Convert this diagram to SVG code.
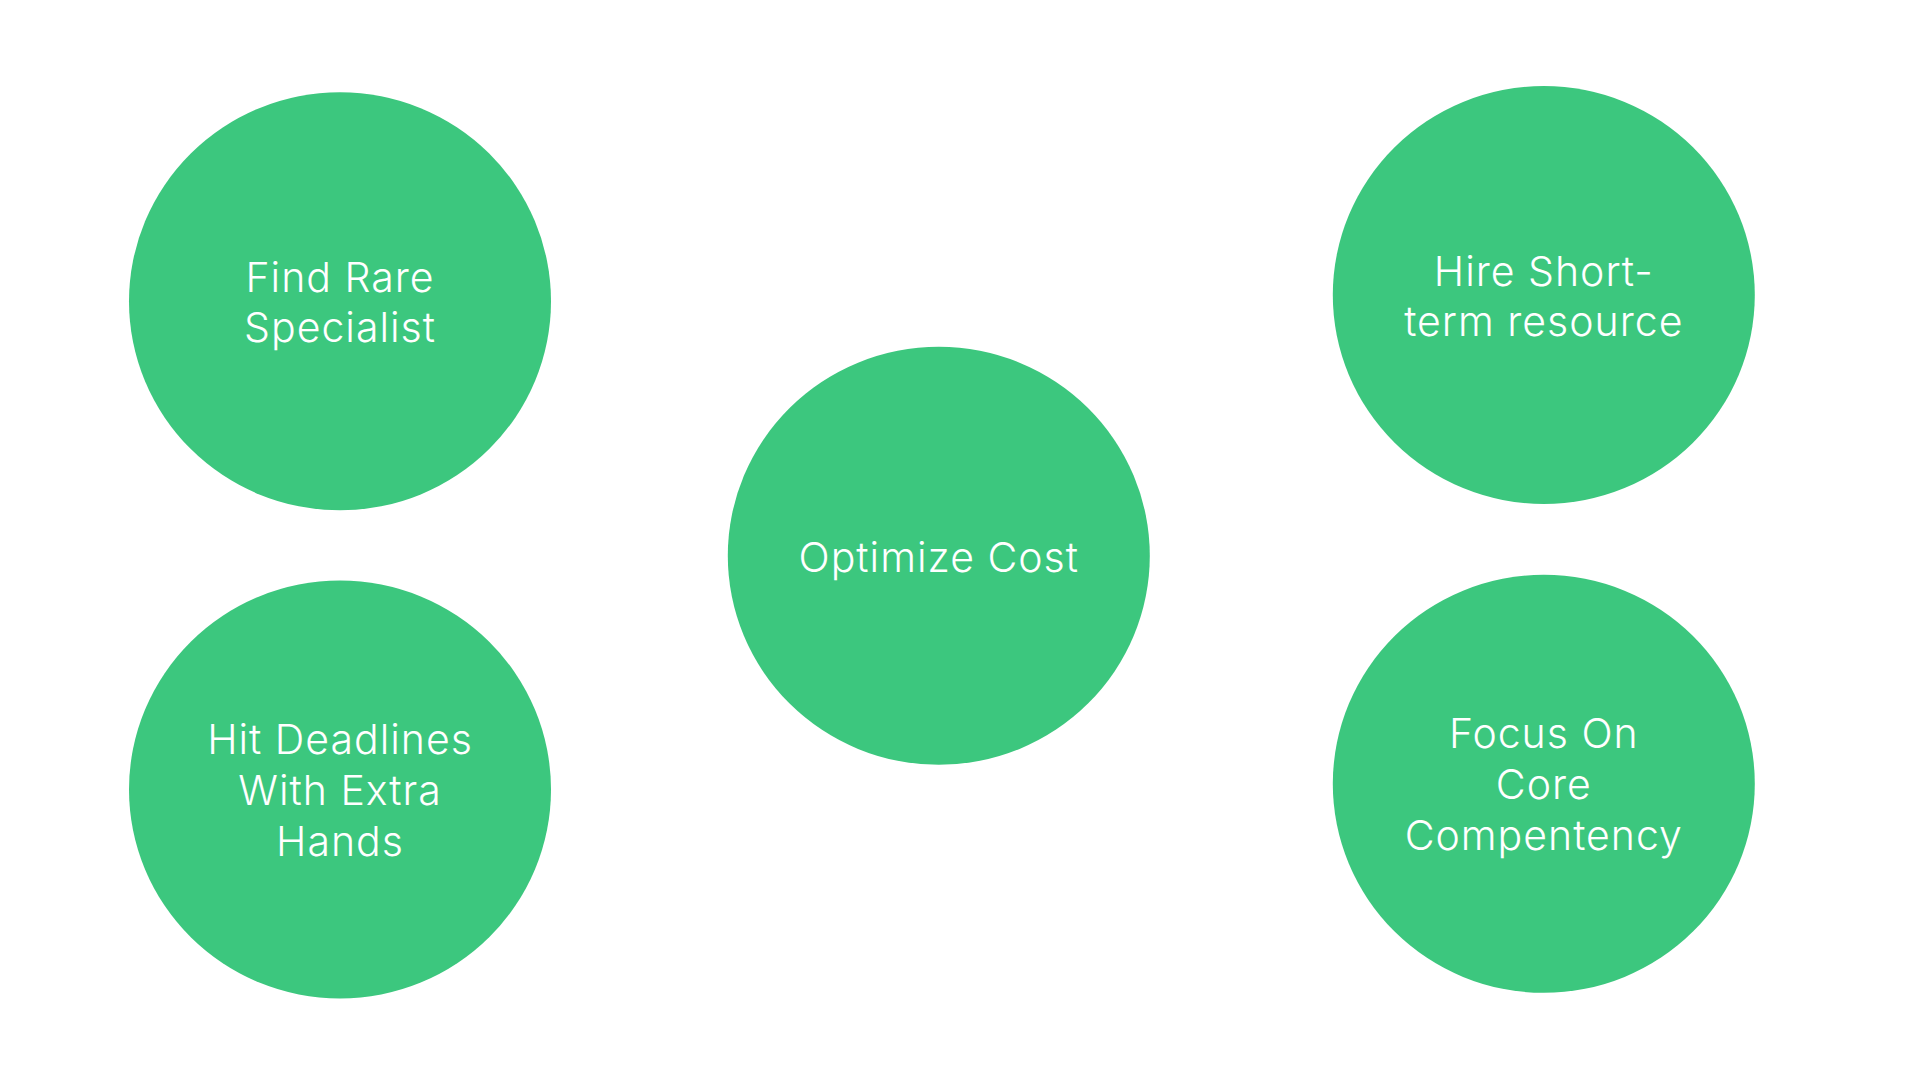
<svg xmlns="http://www.w3.org/2000/svg" width="1920" height="1080" viewBox="0 0 1920 1080">
<style>
.node{fill:#3CC77E}
.lbl{font-family:Inter,"Noto Sans","Liberation Sans",sans-serif;font-size:41px;font-weight:300;letter-spacing:1px;fill:#FFFFFF;text-anchor:middle}
</style>
<rect width="1920" height="1080" fill="#FFFFFF"/>
<g id="connectors"></g>
<g id="node-find-rare-specialist">
<ellipse class="node" cx="340" cy="301.3" rx="211" ry="209"/>
<text class="lbl" x="340" y="291.7">Find Rare</text>
<text class="lbl" x="340" y="341.7">Specialist</text>
</g>
<g id="node-hit-deadlines">
<ellipse class="node" cx="340" cy="789.5" rx="211" ry="209"/>
<text class="lbl" x="340" y="754.3">Hit Deadlines</text>
<text class="lbl" x="340" y="805.1">With Extra</text>
<text class="lbl" x="340" y="855.9">Hands</text>
</g>
<g id="node-optimize-cost">
<ellipse class="node" cx="938.8" cy="555.8" rx="211" ry="209"/>
<text class="lbl" x="938.8" y="571.5">Optimize Cost</text>
</g>
<g id="node-hire-short-term">
<ellipse class="node" cx="1543.8" cy="295" rx="211" ry="209"/>
<text class="lbl" x="1543.8" y="285.5">Hire Short-</text>
<text class="lbl" x="1543.8" y="335.5">term resource</text>
</g>
<g id="node-focus-core">
<ellipse class="node" cx="1543.8" cy="783.8" rx="211" ry="209"/>
<text class="lbl" x="1543.8" y="748.4">Focus On</text>
<text class="lbl" x="1543.8" y="799.2">Core</text>
<text class="lbl" x="1543.8" y="850">Compentency</text>
</g>
</svg>
